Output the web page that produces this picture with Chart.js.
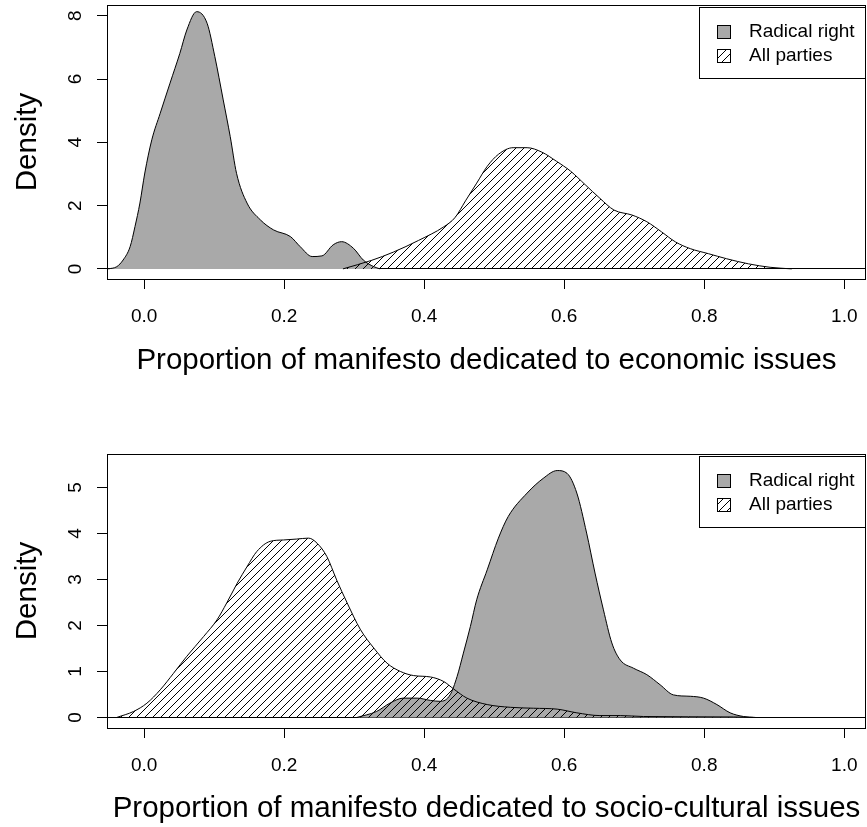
<!DOCTYPE html>
<html lang="en">
<head>
    <meta charset="UTF-8">
    <title>Radical right vs all parties: manifesto density</title>
    <script src="https://cdn.jsdelivr.net/npm/chart.js"></script>
    <style>
        body {
            margin: 0;
            background: #fff;
            overflow: hidden;
        }
        canvas {
            display: block;
        }
    </style>
</head>
<body>
    <canvas id="econChart" width="867" height="414"></canvas>
    <canvas id="socChart" width="867" height="413"></canvas>

    <script>
        // Density estimates
        const seriesLabels = ['Radical right', 'All parties'];
        const xTicks = [0, 0.2, 0.4, 0.6, 0.8, 1.0];
        const econYTicks = [0, 2, 4, 6, 8];
        const socYTicks = [0, 1, 2, 3, 4, 5];

        // economic issues: radical right
        const econRadX = [-0.051, -0.039, -0.030, -0.020, -0.013, -0.006, 0.001, 0.011, 0.023, 0.037, 0.051, 0.061, 0.075, 0.090, 0.101, 0.113, 0.123, 0.132, 0.147, 0.166, 0.185, 0.209, 0.223, 0.240, 0.254, 0.270, 0.282, 0.299, 0.313, 0.328, 0.337];
        const econRadY = [0, 0.07, 0.28, 0.70, 1.34, 2.08, 3.03, 4.08, 4.92, 5.87, 6.81, 7.55, 8.13, 7.76, 6.71, 5.34, 4.18, 3.02, 2.08, 1.55, 1.23, 1.02, 0.70, 0.39, 0.41, 0.76, 0.86, 0.65, 0.28, 0.07, 0];

        // economic issues: all parties
        const econAllX = [0.284, 0.325, 0.356, 0.392, 0.428, 0.444, 0.459, 0.475, 0.490, 0.506, 0.527, 0.547, 0.568, 0.589, 0.609, 0.630, 0.651, 0.671, 0.697, 0.718, 0.739, 0.759, 0.780, 0.806, 0.832, 0.863, 0.894, 0.925];
        const econAllY = [0, 0.27, 0.53, 0.90, 1.33, 1.62, 2.15, 2.71, 3.24, 3.62, 3.83, 3.83, 3.69, 3.40, 3.09, 2.66, 2.23, 1.86, 1.70, 1.49, 1.17, 0.85, 0.64, 0.48, 0.32, 0.16, 0.05, 0];

        // socio-cultural issues: radical right
        const socRadX = [0.304, 0.332, 0.351, 0.370, 0.390, 0.409, 0.423, 0.437, 0.447, 0.456, 0.466, 0.475, 0.490, 0.506, 0.520, 0.547, 0.570, 0.590, 0.604, 0.618, 0.632, 0.644, 0.656, 0.668, 0.680, 0.699, 0.718, 0.737, 0.756, 0.780, 0.799, 0.818, 0.837, 0.856, 0.873];
        const socRadY = [0, 0.13, 0.31, 0.42, 0.42, 0.37, 0.35, 0.49, 0.89, 1.40, 1.98, 2.56, 3.21, 3.90, 4.37, 4.88, 5.20, 5.37, 5.31, 4.88, 4.01, 3.14, 2.34, 1.62, 1.25, 1.07, 0.93, 0.71, 0.49, 0.46, 0.42, 0.28, 0.10, 0.02, 0];

        // socio-cultural issues: all parties
        const socAllX = [-0.039, -0.015, 0.004, 0.023, 0.042, 0.061, 0.085, 0.104, 0.118, 0.133, 0.147, 0.161, 0.180, 0.199, 0.218, 0.235, 0.247, 0.261, 0.275, 0.290, 0.309, 0.328, 0.347, 0.366, 0.385, 0.409, 0.428, 0.442, 0.461, 0.490, 0.523, 0.556, 0.590, 0.618, 0.651, 0.680, 0.713, 0.842, 0.870];
        const socAllY = [0, 0.13, 0.31, 0.60, 0.96, 1.33, 1.76, 2.12, 2.49, 2.92, 3.28, 3.61, 3.83, 3.86, 3.88, 3.90, 3.79, 3.50, 2.99, 2.49, 1.91, 1.51, 1.18, 1.00, 0.91, 0.88, 0.78, 0.62, 0.42, 0.28, 0.22, 0.20, 0.18, 0.10, 0.04, 0.04, 0.02, 0.01, 0];

        Chart.defaults.font.family = '"Liberation Sans", Arial, sans-serif';
        Chart.defaults.font.size = 19;
        Chart.defaults.color = '#000';

        // diagonal hatching like R's density/angle polygons
        function hatchPattern() {
            const size = 8;
            const c = document.createElement('canvas');
            c.width = size;
            c.height = size;
            const g = c.getContext('2d');
            g.strokeStyle = '#000';
            g.lineWidth = 1;
            g.beginPath();
            g.moveTo(0, size); g.lineTo(size, 0);
            g.moveTo(-1, 1); g.lineTo(1, -1);
            g.moveTo(size - 1, size + 1); g.lineTo(size + 1, size - 1);
            g.stroke();
            return g.createPattern(c, 'repeat');
        }
        const hatch = hatchPattern();

        const toPoints = (xs, ys) => xs.map((x, i) => ({ x: x, y: ys[i] }));

        // box around the plot region
        const plotBox = {
            id: 'plotBox',
            afterDraw(chart) {
                const { ctx, chartArea } = chart;
                ctx.save();
                ctx.strokeStyle = '#000';
                ctx.lineWidth = 1;
                ctx.strokeRect(Math.round(chartArea.left) + 0.5, Math.round(chartArea.top) + 0.5,
                    Math.round(chartArea.right - chartArea.left) - 1, Math.round(chartArea.bottom - chartArea.top));
                ctx.restore();
            }
        };

        // y tick labels turned like R's las = 0
        const yTickText = {
            id: 'yTickText',
            afterDraw(chart) {
                const { ctx, chartArea } = chart;
                const scale = chart.scales.y;
                ctx.save();
                ctx.fillStyle = '#000';
                ctx.font = '19px "Liberation Sans", Arial, sans-serif';
                ctx.textAlign = 'center';
                ctx.textBaseline = 'alphabetic';
                scale.ticks.forEach(t => {
                    const py = scale.getPixelForValue(t.value);
                    ctx.save();
                    ctx.translate(chartArea.left - 26, py);
                    ctx.rotate(-Math.PI / 2);
                    ctx.fillText(String(t.value), 0, 0);
                    ctx.restore();
                });
                ctx.restore();
            }
        };

        // boxed legend in the top right corner
        const boxLegend = {
            id: 'boxLegend',
            afterDraw(chart) {
                const { ctx, chartArea } = chart;
                const w = 167, h = 72;
                const x0 = Math.round(chartArea.right) - w;
                const y0 = Math.round(chartArea.top) + 2;
                ctx.save();
                ctx.fillStyle = '#fff';
                ctx.fillRect(x0, y0, w, h);
                ctx.strokeStyle = '#000';
                ctx.lineWidth = 1;
                ctx.strokeRect(x0 + 0.5, y0 + 0.5, w - 1, h - 1);
                ctx.font = '19px "Liberation Sans", Arial, sans-serif';
                ctx.textBaseline = 'middle';
                chart.data.datasets.forEach((ds, row) => {
                    const cy = y0 + 25 + row * 24;
                    ctx.fillStyle = ds.backgroundColor;
                    ctx.fillRect(x0 + 18, cy - 7, 14, 14);
                    ctx.strokeRect(x0 + 18.5, cy - 6.5, 13, 13);
                    ctx.fillStyle = '#000';
                    ctx.fillText(ds.label, x0 + 50, cy);
                });
                ctx.restore();
            }
        };

        function makeChart(id, radX, radY, allX, allY, yMin, yMax, yTicks, xTitle, padTop, xAxisHeight, titlePadBottom) {
            return new Chart(document.getElementById(id), {
                type: 'line',
                data: {
                    datasets: [
                        {
                            label: seriesLabels[0],
                            data: toPoints(radX, radY),
                            borderColor: '#000',
                            borderWidth: 1,
                            backgroundColor: '#a9a9a9',
                            fill: 'origin',
                            pointRadius: 0,
                            cubicInterpolationMode: 'monotone',
                            order: 2
                        },
                        {
                            label: seriesLabels[1],
                            data: toPoints(allX, allY),
                            borderColor: '#000',
                            borderWidth: 1,
                            backgroundColor: hatch,
                            fill: 'origin',
                            pointRadius: 0,
                            cubicInterpolationMode: 'monotone',
                            order: 1
                        }
                    ]
                },
                options: {
                    responsive: false,
                    animation: false,
                    events: [],
                    layout: { padding: { top: padTop, right: 1, bottom: 0, left: 0 } },
                    plugins: {
                        legend: { display: false },
                        tooltip: { enabled: false }
                    },
                    scales: {
                        x: {
                            type: 'linear',
                            min: -0.053,
                            max: 1.031,
                            afterBuildTicks: scale => { scale.ticks = xTicks.map(v => ({ value: v })); },
                            afterFit: scale => {
                                scale.height = xAxisHeight;
                                scale.paddingLeft = 0;
                                scale.paddingRight = 0;
                            },
                            border: { display: false },
                            grid: { drawOnChartArea: false, drawTicks: true, tickLength: 10, tickColor: '#000' },
                            ticks: { padding: 16, maxRotation: 0, callback: v => v.toFixed(1) },
                            title: {
                                display: true,
                                text: xTitle,
                                font: { size: 29.5 },
                                padding: { top: 0, bottom: titlePadBottom }
                            }
                        },
                        y: {
                            min: yMin,
                            max: yMax,
                            z: 1,
                            afterBuildTicks: scale => { scale.ticks = yTicks.map(v => ({ value: v })); },
                            afterFit: scale => {
                                scale.width = 107;
                                scale.paddingTop = 0;
                                scale.paddingBottom = 0;
                            },
                            border: { display: false },
                            grid: {
                                drawTicks: true,
                                tickLength: 10,
                                tickColor: '#000',
                                color: ctx => (ctx.tick && ctx.tick.value === 0) ? '#000' : 'rgba(0,0,0,0)'
                            },
                            ticks: { display: false },
                            title: {
                                display: true,
                                text: 'Density',
                                font: { size: 29.5 },
                                padding: { top: 10, bottom: 0 }
                            }
                        }
                    }
                },
                plugins: [plotBox, yTickText, boxLegend]
            });
        }

        makeChart('econChart', econRadX, econRadY, econAllX, econAllY, -0.32, 8.34, econYTicks,
            'Proportion of manifesto dedicated to economic issues', 5, 135, 35.5);
        makeChart('socChart', socRadX, socRadY, socAllX, socAllY, -0.23, 5.73, socYTicks,
            'Proportion of manifesto dedicated to socio-cultural issues', 40, 99, 0);
    </script>
</body>
</html>
